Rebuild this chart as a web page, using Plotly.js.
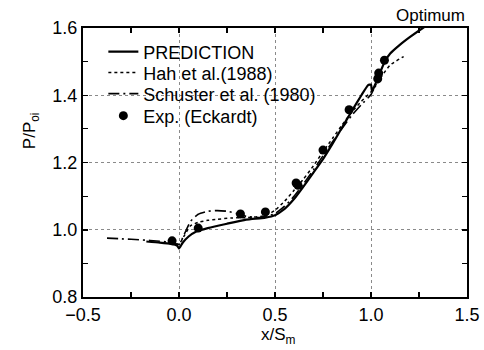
<!DOCTYPE html>
<html>
<head>
<meta charset="utf-8">
<script src="https://cdn.plot.ly/plotly-3.0.1.min.js"></script>
<style>html,body{margin:0;padding:0;background:#fff;}#chart{width:484px;height:350px;}</style>
</head>
<body>
<div id="chart"></div>
<script>
// Data
var predX = [-0.17, -0.1, -0.04, -0.01, 0.0, 0.02, 0.05, 0.09, 0.15, 0.25, 0.35, 0.45, 0.5, 0.55, 0.6, 0.65, 0.7, 0.75, 0.8, 0.85, 0.9, 0.95, 0.985, 1.0, 1.005, 1.02, 1.04, 1.07, 1.1, 1.15, 1.2, 1.27, 1.35];
var predY = [0.965, 0.962, 0.958, 0.953, 0.944, 0.962, 0.98, 0.995, 1.005, 1.018, 1.03, 1.036, 1.043, 1.062, 1.092, 1.13, 1.17, 1.21, 1.256, 1.305, 1.353, 1.4, 1.43, 1.432, 1.412, 1.43, 1.457, 1.498, 1.524, 1.55, 1.572, 1.6, 1.628];

var hahX = [-0.05, 0.0, 0.03, 0.06, 0.1, 0.15, 0.2, 0.27, 0.35, 0.45, 0.5, 0.55, 0.6, 0.65, 0.7, 0.75, 0.8, 0.85, 0.9, 0.95, 1.0, 1.03, 1.06, 1.1, 1.17];
var hahY = [0.962, 0.958, 0.985, 1.012, 1.022, 1.028, 1.031, 1.035, 1.036, 1.042, 1.058, 1.085, 1.118, 1.152, 1.19, 1.232, 1.272, 1.312, 1.35, 1.382, 1.41, 1.432, 1.46, 1.49, 1.515];

var schX = [-0.375, -0.3, -0.2, -0.1, -0.04, 0.0, 0.03, 0.06, 0.1, 0.15, 0.2, 0.25, 0.3, 0.35, 0.42, 0.5, 0.55, 0.6, 0.65, 0.7, 0.75, 0.8, 0.85, 0.9, 0.95, 1.0, 1.02, 1.04];
var schY = [0.975, 0.973, 0.97, 0.966, 0.962, 0.956, 0.99, 1.025, 1.046, 1.055, 1.057, 1.055, 1.048, 1.04, 1.036, 1.048, 1.07, 1.1, 1.138, 1.178, 1.22, 1.262, 1.302, 1.34, 1.372, 1.402, 1.425, 1.45];

var expX = [-0.036, 0.10, 0.32, 0.45, 0.61, 0.62, 0.75, 0.886, 1.035, 1.04, 1.07];
var expY = [0.967, 1.005, 1.047, 1.053, 1.139, 1.132, 1.237, 1.357, 1.449, 1.466, 1.504];

var legendNames = ['PREDICTION', 'Hah et al.(1988)', 'Schuster et al. (1980)', 'Exp. (Eckardt)'];
var xTitle = 'x/S<sub>m</sub>';
var yTitle = 'P/P<sub>oi</sub>';
var chartTitle = 'Optimum';

var FONT = 'Liberation Sans, Arial, Helvetica, sans-serif';

var traces = [
  {x: predX, y: predY, name: legendNames[0], legend: 'legend', mode: 'lines', line: {color: '#000', width: 2.2, shape: 'spline', smoothing: 0.4}},
  {x: hahX, y: hahY, name: legendNames[1], legend: 'legend2', mode: 'lines', line: {color: '#000', width: 1.5, dash: 'dot', shape: 'spline', smoothing: 0.5}},
  {x: schX, y: schY, name: legendNames[2], legend: 'legend3', mode: 'lines', line: {color: '#000', width: 1.6, dash: '11px,4px,2px,4px', shape: 'spline', smoothing: 0.5}},
  {x: expX, y: expY, name: legendNames[3], legend: 'legend4', mode: 'markers', marker: {color: '#000', size: 9, symbol: 'circle'}}
];

var axisCommon = {
  showline: true, linewidth: 2, linecolor: '#000', mirror: 'allticks',
  ticks: 'inside', ticklen: 5, tickwidth: 1.5, tickcolor: '#000',
  showgrid: true, gridcolor: '#8a8a8a', griddash: 'dot', gridwidth: 1,
  zeroline: false, tickfont: {family: FONT, size: 18, color: '#000'},
  tickformat: '.1f'
};

function legendAt(yPaper) {
  return {x: 0.053, y: yPaper, xanchor: 'left', yanchor: 'middle', bgcolor: 'rgba(0,0,0,0)',
          font: {family: FONT, size: 18, color: '#000'}, itemwidth: 30};
}

var layout = {
  width: 484, height: 350,
  margin: {l: 83, r: 17, t: 28, b: 53},
  paper_bgcolor: '#fff', plot_bgcolor: '#fff',
  font: {family: FONT, color: '#000'},
  showlegend: true,
  legend: legendAt(0.911),
  legend2: legendAt(0.833),
  legend3: legendAt(0.755),
  legend4: legendAt(0.673),
  xaxis: Object.assign({}, axisCommon, {range: [-0.5, 1.5], dtick: 0.5, tick0: -0.5,
           minor: {dtick: 0.25, ticks: 'inside', ticklen: 5, tickwidth: 1.2, tickcolor: '#000', showgrid: false}}),
  yaxis: Object.assign({}, axisCommon, {range: [0.8, 1.6], dtick: 0.2, tick0: 0.8,
           minor: {dtick: 0.1, ticks: 'inside', ticklen: 5, tickwidth: 1.2, tickcolor: '#000', showgrid: false}}),
  annotations: [
    {text: chartTitle, xref: 'paper', yref: 'paper', x: 1.0, y: 1.048, xanchor: 'right', yanchor: 'middle',
     showarrow: false, font: {family: FONT, size: 17, color: '#000'}},
    {text: xTitle, xref: 'paper', yref: 'paper', x: 0.508, y: -0.145, xanchor: 'center', yanchor: 'middle',
     showarrow: false, font: {family: FONT, size: 17, color: '#000'}},
    {text: yTitle, xref: 'paper', yref: 'paper', x: -0.135, y: 0.617, xanchor: 'center', yanchor: 'middle',
     textangle: -90, showarrow: false, font: {family: FONT, size: 17, color: '#000'}}
  ]
};

Plotly.newPlot('chart', traces, layout, {displayModeBar: false, staticPlot: true});
</script>
</body>
</html>
